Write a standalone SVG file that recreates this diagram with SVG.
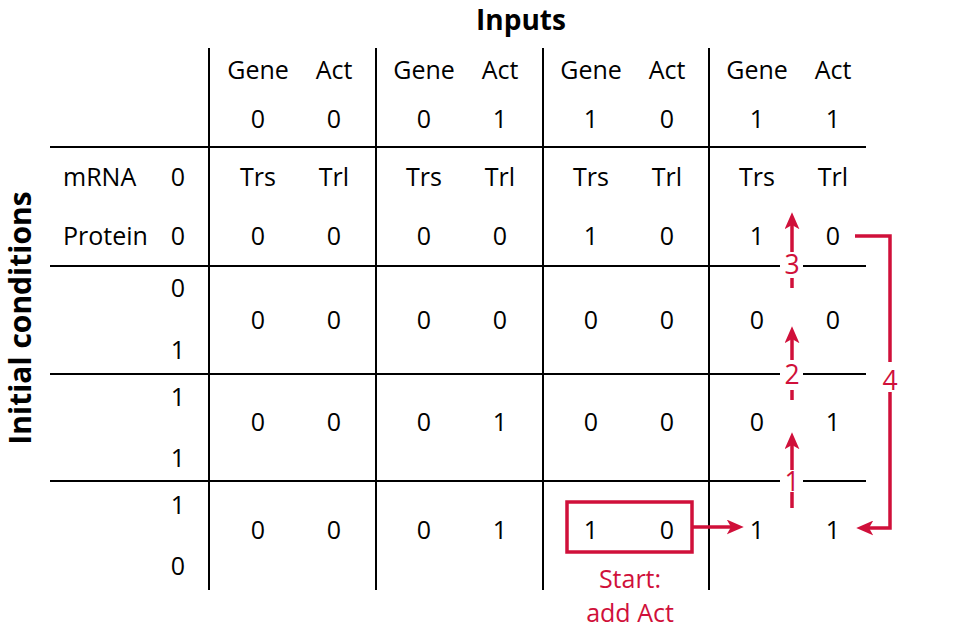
<svg xmlns="http://www.w3.org/2000/svg" width="978" height="632" viewBox="0 0 978 632">
<defs>
<style>
text{font-family:"Open Sans","Noto Sans",sans-serif;font-size:25px;fill:#000;text-anchor:middle}
.b{font-weight:bold;font-size:28px}
.ic{font-size:30px}
.l{text-anchor:start}
.r{fill:#d0103a;font-size:26.5px}
.s{font-size:25px}
.g{stroke:#000;stroke-width:2;fill:none}
.rs{stroke:#d0103a;stroke-width:3.5;fill:none}
</style>
<marker id="ah" viewBox="0 0 16 14" refX="4" refY="7" markerWidth="17" markerHeight="15" orient="auto" markerUnits="userSpaceOnUse">
<path d="M0,0 L16,7 L0,14 L4,7 Z" fill="#d0103a"/>
</marker>
</defs>
<rect width="978" height="632" fill="#fff"/>
<g id="titles">
<text class="b" x="521" y="30">Inputs</text>
<text class="b ic" transform="translate(31,318) rotate(-90)">Initial conditions</text>
</g>
<g id="grid">
<line class="g" x1="209" y1="48" x2="209" y2="590"/>
<line class="g" x1="376" y1="48" x2="376" y2="590"/>
<line class="g" x1="543" y1="48" x2="543" y2="590"/>
<line class="g" x1="709" y1="48" x2="709" y2="590"/>
<line class="g" x1="50" y1="147" x2="866" y2="147"/>
<line class="g" x1="50" y1="266" x2="780" y2="266"/>
<line class="g" x1="803" y1="266" x2="866" y2="266"/>
<line class="g" x1="50" y1="374" x2="780" y2="374"/>
<line class="g" x1="803" y1="374" x2="866" y2="374"/>
<line class="g" x1="50" y1="481" x2="780" y2="481"/>
<line class="g" x1="803" y1="481" x2="866" y2="481"/>
</g>
<g id="header">
<text x="258" y="79">Gene</text><text x="334" y="79">Act</text>
<text x="424" y="79">Gene</text><text x="500" y="79">Act</text>
<text x="591" y="79">Gene</text><text x="667" y="79">Act</text>
<text x="757" y="79">Gene</text><text x="833" y="79">Act</text>
<text x="258" y="128">0</text><text x="334" y="128">0</text>
<text x="424" y="128">0</text><text x="500" y="128">1</text>
<text x="591" y="128">1</text><text x="667" y="128">0</text>
<text x="757" y="128">1</text><text x="833" y="128">1</text>
</g>
<g id="row0">
<text class="l" x="63" y="186">mRNA</text><text x="178" y="186">0</text>
<text class="l" x="63" y="245">Protein</text><text x="178" y="245">0</text>
<text x="258" y="186">Trs</text><text x="334" y="186">Trl</text>
<text x="424" y="186">Trs</text><text x="500" y="186">Trl</text>
<text x="591" y="186">Trs</text><text x="667" y="186">Trl</text>
<text x="757" y="186">Trs</text><text x="833" y="186">Trl</text>
<text x="258" y="245">0</text><text x="334" y="245">0</text>
<text x="424" y="245">0</text><text x="500" y="245">0</text>
<text x="591" y="245">1</text><text x="667" y="245">0</text>
<text x="757" y="245">1</text><text x="833" y="245">0</text>
</g>
<g id="row1">
<text x="178" y="297">0</text><text x="178" y="359">1</text>
<text x="258" y="329">0</text><text x="334" y="329">0</text>
<text x="424" y="329">0</text><text x="500" y="329">0</text>
<text x="591" y="329">0</text><text x="667" y="329">0</text>
<text x="757" y="329">0</text><text x="833" y="329">0</text>
</g>
<g id="row2">
<text x="178" y="406">1</text><text x="178" y="467">1</text>
<text x="258" y="431">0</text><text x="334" y="431">0</text>
<text x="424" y="431">0</text><text x="500" y="431">1</text>
<text x="591" y="431">0</text><text x="667" y="431">0</text>
<text x="757" y="431">0</text><text x="833" y="431">1</text>
</g>
<g id="row3">
<text x="178" y="514">1</text><text x="178" y="575">0</text>
<text x="258" y="539">0</text><text x="334" y="539">0</text>
<text x="424" y="539">0</text><text x="500" y="539">1</text>
<text x="591" y="539">1</text><text x="667" y="539">0</text>
<text x="757" y="539">1</text><text x="833" y="539">1</text>
</g>
<g id="start">
<rect class="rs" x="567" y="502" width="125" height="50"/>
<text class="r s" x="630" y="588">Start:</text>
<text class="r s" x="630" y="622">add Act</text>
</g>
<g id="connectors">
<line class="rs" x1="692" y1="527" x2="731" y2="527" marker-end="url(#ah)"/>
<line class="rs" x1="792" y1="508" x2="792" y2="492"/>
<line class="rs" x1="792" y1="470" x2="792" y2="445" marker-end="url(#ah)"/>
<text class="r" x="792" y="491">1</text>
<line class="rs" x1="792" y1="400" x2="792" y2="390"/>
<line class="rs" x1="792" y1="360" x2="792" y2="339" marker-end="url(#ah)"/>
<text class="r" x="792" y="384">2</text>
<line class="rs" x1="792" y1="288" x2="792" y2="278"/>
<line class="rs" x1="792" y1="252" x2="792" y2="225" marker-end="url(#ah)"/>
<text class="r" x="792" y="274">3</text>
<polyline class="rs" points="855,236 890,236 890,362"/>
<polyline class="rs" points="890,392 890,528 869,528" marker-end="url(#ah)"/>
<text class="r" x="890" y="390">4</text>
</g>
</svg>
